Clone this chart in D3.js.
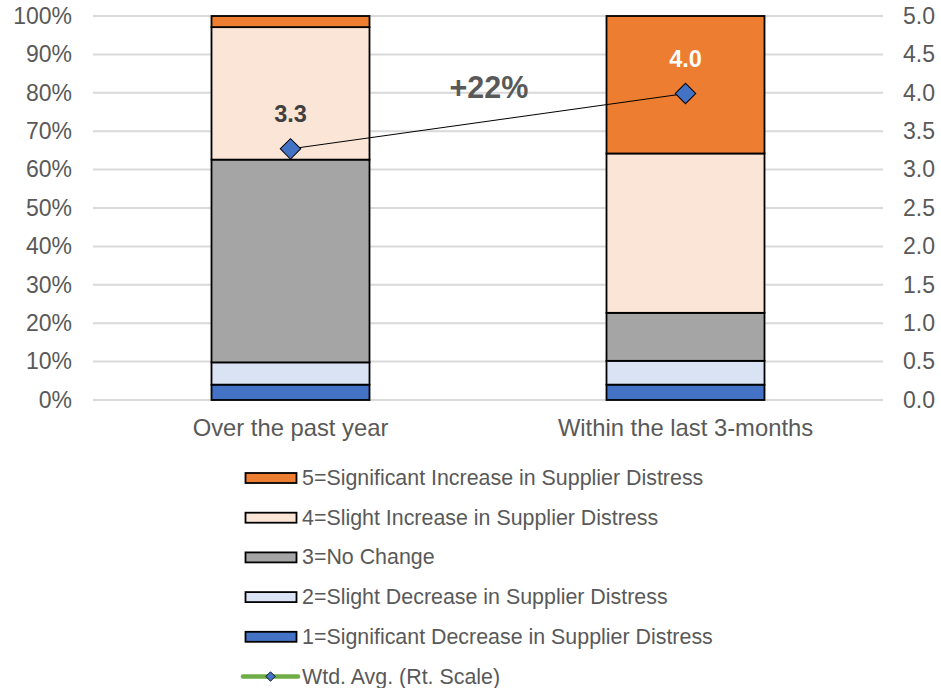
<!DOCTYPE html>
<html>
<head>
<meta charset="utf-8">
<script src="https://cdn.jsdelivr.net/npm/d3@7"></script>
<style>
  body { margin: 0; background: #fff; }
  svg { display: block; font-family: "Liberation Sans", Arial, sans-serif; }
</style>
</head>
<body>
<svg id="chart" width="941" height="688"></svg>
<script>
const categories = ["Over the past year", "Within the last 3-months"];
const seriesNames = [
  "1=Significant Decrease in Supplier Distress",
  "2=Slight Decrease in Supplier Distress",
  "3=No Change",
  "4=Slight Increase in Supplier Distress",
  "5=Significant Increase in Supplier Distress"
];
const sigDecrease = [0.040, 0.040];
const slightDecrease = [0.058, 0.062];
const noChange = [0.528, 0.125];
const slightIncrease = [0.345, 0.415];
const sigIncrease = [0.029, 0.358];
const wtdAvg = [3.27, 3.99];
const wtdAvgLabels = ["3.3", "4.0"];
const changeLabel = "+22%";
const leftTicks = [0, 0.1, 0.2, 0.3, 0.4, 0.5, 0.6, 0.7, 0.8, 0.9, 1.0];
const rightTicks = [0, 0.5, 1.0, 1.5, 2.0, 2.5, 3.0, 3.5, 4.0, 4.5, 5.0];
const lineName = "Wtd. Avg. (Rt. Scale)";

const colors = ["#4472C4", "#DAE3F3", "#A5A5A5", "#FBE5D6", "#ED7D31"];
const seriesValues = [sigDecrease, slightDecrease, noChange, slightIncrease, sigIncrease];

const svg = d3.select("#chart");
const margin = { left: 93, right: 883, top: 16, bottom: 400 };

const x = d3.scaleBand().domain(categories).range([margin.left, margin.right]).paddingInner(0.6).paddingOuter(0.3);
const yL = d3.scaleLinear().domain([0, 1]).range([margin.bottom, margin.top]);
const yR = d3.scaleLinear().domain([0, 5]).range([margin.bottom, margin.top]);

// gridlines
svg.append("g").selectAll("line").data(leftTicks).join("line")
  .attr("x1", margin.left).attr("x2", margin.right)
  .attr("y1", d => yL(d)).attr("y2", d => yL(d))
  .attr("stroke", "#D9D9D9").attr("stroke-width", 2);

// left axis
const axL = svg.append("g").attr("transform", `translate(${margin.left},0)`)
  .call(d3.axisLeft(yL).tickValues(leftTicks).tickFormat(d3.format(".0%")).tickSize(0).tickPadding(21));
axL.select(".domain").remove();
axL.selectAll("text").attr("fill", "#595959").style("font-size", "23px").attr("font-family", "Liberation Sans, Arial, sans-serif");

// right axis
const axR = svg.append("g").attr("transform", `translate(${margin.right},0)`)
  .call(d3.axisRight(yR).tickValues(rightTicks).tickFormat(d3.format(".1f")).tickSize(0).tickPadding(20));
axR.select(".domain").remove();
axR.selectAll("text").attr("fill", "#595959").style("font-size", "23px").attr("font-family", "Liberation Sans, Arial, sans-serif");

// category axis
const axB = svg.append("g").attr("transform", `translate(0,${margin.bottom})`)
  .call(d3.axisBottom(x).tickSize(0).tickPadding(19));
axB.select(".domain").remove();
axB.selectAll("text").attr("fill", "#595959").style("font-size", "23.8px").attr("font-family", "Liberation Sans, Arial, sans-serif");

// stacked bars
const rows = categories.map((c, i) => {
  const r = { cat: c };
  seriesNames.forEach((s, j) => r[s] = seriesValues[j][i]);
  return r;
});
const stack = d3.stack().keys(seriesNames)(rows);
svg.append("g").selectAll("g").data(stack).join("g")
  .attr("fill", (d, i) => colors[i])
  .selectAll("rect").data(d => d).join("rect")
  .attr("x", d => x(d.data.cat))
  .attr("width", x.bandwidth())
  .attr("y", d => yL(d[1]))
  .attr("height", d => yL(d[0]) - yL(d[1]))
  .attr("stroke", "#000").attr("stroke-width", 1.8);

// weighted avg line
const pts = categories.map((c, i) => [x(c) + x.bandwidth() / 2, yR(wtdAvg[i])]);
svg.append("path").attr("d", d3.line()(pts)).attr("fill", "none").attr("stroke", "#000").attr("stroke-width", 1);
svg.append("g").selectAll("path").data(pts).join("path")
  .attr("transform", d => `translate(${d[0]},${d[1]}) rotate(45)`)
  .attr("d", d3.symbol().type(d3.symbolSquare).size(210))
  .attr("fill", "#4472C4").attr("stroke", "#000").attr("stroke-width", 1);

// value labels
svg.append("g").selectAll("text").data(pts).join("text")
  .attr("x", d => d[0]).attr("y", d => d[1] - 27)
  .attr("text-anchor", "middle")
  .attr("font-weight", "bold").style("font-size", "23.5px")
  .attr("fill", (d, i) => i === 0 ? "#404040" : "#FFFFFF")
  .text((d, i) => wtdAvgLabels[i]);

// +22% label
svg.append("text")
  .attr("x", (pts[0][0] + pts[1][0]) / 2 + 1).attr("y", 98)
  .attr("text-anchor", "middle").attr("font-weight", "bold").style("font-size", "30.5px")
  .attr("fill", "#595959").text(changeLabel);

// legend
const legendItems = seriesNames.map((s, i) => ({ name: s, color: colors[i] })).reverse();
const lg = svg.append("g");
legendItems.forEach((it, k) => {
  const cy = 478 + k * 39.7;
  lg.append("rect").attr("x", 245.5).attr("y", cy - 5).attr("width", 51).attr("height", 10)
    .attr("fill", it.color).attr("stroke", "#000").attr("stroke-width", 1.8);
  lg.append("text").attr("x", 302).attr("y", cy + 7).attr("fill", "#595959")
    .style("font-size", "21.4px").text(it.name);
});
const ly = 478 + 5 * 39.7;
lg.append("line").attr("x1", 243).attr("x2", 298).attr("y1", ly).attr("y2", ly)
  .attr("stroke", "#70AD47").attr("stroke-width", 4.5).attr("stroke-linecap", "round");
lg.append("path").attr("transform", `translate(270.5,${ly}) rotate(45)`)
  .attr("d", d3.symbol().type(d3.symbolSquare).size(45))
  .attr("fill", "#4472C4").attr("stroke", "#000").attr("stroke-width", 0.8);
lg.append("text").attr("x", 302).attr("y", ly + 7).attr("fill", "#595959")
  .style("font-size", "21.4px").text(lineName);
</script>
</body>
</html>
